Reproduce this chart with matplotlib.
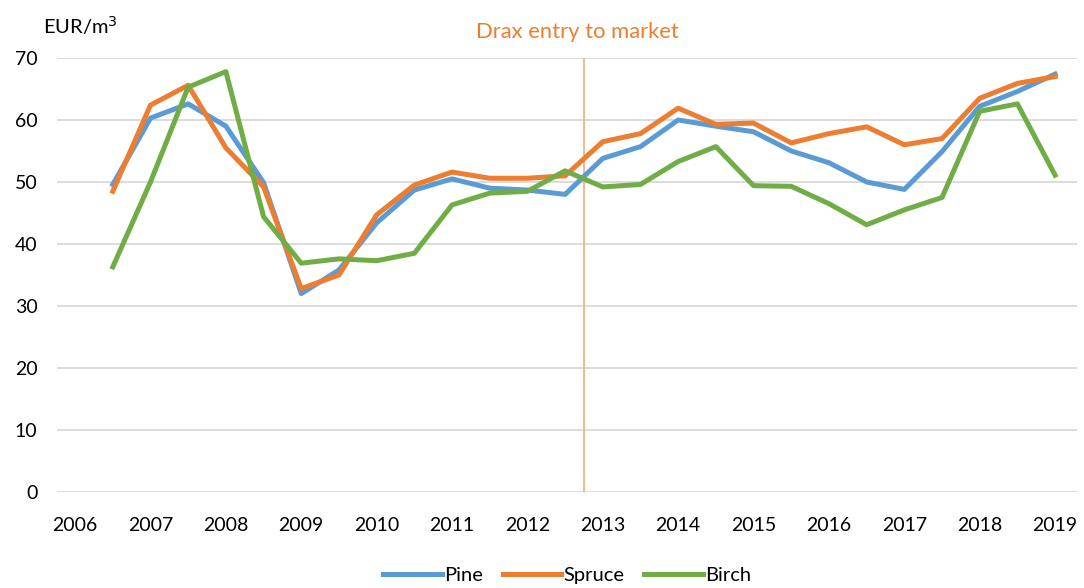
import numpy as np
import matplotlib
matplotlib.use("Agg")
from matplotlib import pyplot as plt

plt.rcParams['font.family'] = ['Lato', 'DejaVu Sans']

# half-year observations, 2006.5 .. 2019
periods = np.arange(2006.5, 2019.01, 0.5)
pine = [49.6, 60.3, 62.6, 59.0, 49.9, 32.0, 35.8, 43.4, 48.7, 50.5, 49.0, 48.7, 48.0,
        53.8, 55.7, 60.0, 59.0, 58.1, 55.0, 53.1, 50.0, 48.8, 54.9, 62.2, 64.6, 67.4]
spruce = [48.5, 62.4, 65.6, 55.5, 49.2, 32.8, 35.0, 44.7, 49.5, 51.6, 50.6, 50.6, 51.0,
          56.5, 57.8, 61.9, 59.3, 59.5, 56.3, 57.8, 58.9, 56.0, 57.0, 63.5, 65.9, 67.0]
birch = [36.3, 50.0, 65.3, 67.8, 44.4, 36.9, 37.6, 37.3, 38.5, 46.3, 48.2, 48.5, 51.8,
         49.2, 49.6, 53.3, 55.7, 49.4, 49.3, 46.5, 43.1, 45.5, 47.5, 61.4, 62.6, 51.1]
years = list(range(2006, 2020))
drax_entry = 2012.75

fig = plt.figure(figsize=(10.84, 5.88), dpi=100)
ax = fig.add_axes([0.0526, 0.1633, 0.9409, 0.7381])

ax.plot(periods, pine, color='#5B9BD5', lw=3.6, label='Pine', solid_joinstyle='round')
ax.plot(periods, spruce, color='#ED7D31', lw=3.6, label='Spruce', solid_joinstyle='round')
ax.plot(periods, birch, color='#70AD47', lw=3.6, label='Birch', solid_joinstyle='round')
ax.axvline(drax_entry, color='#F4B183', lw=1.3, zorder=1)
ax.text(drax_entry - 0.08, 74.2, 'Drax entry to market', color='#ED7D31', fontsize=15.8,
        ha='center', va='center')

ax.set_xlim(2005.76, 2019.29)
ax.set_ylim(0, 70)
ax.set_yticks(range(0, 71, 10))
ax.set_xticks(years)
ax.grid(axis='y', color='#D9D9D9', lw=1.3, zorder=0)
ax.set_axisbelow(True)
for s in ax.spines.values():
    s.set_visible(False)
ax.tick_params(length=0, labelsize=14, colors='#000000')
ax.tick_params(axis='x', pad=18)
ax.tick_params(axis='y', pad=14)

fig.text(0.040, 0.957, 'EUR/m$^3$', fontsize=14.5, va='center')

ax.legend(loc='upper center', bbox_to_anchor=(0.5, -0.13), ncol=3, frameon=False,
          fontsize=14.5, handlelength=2.9, handletextpad=0.1, columnspacing=1.0)

fig.savefig('out.png', dpi=100)
